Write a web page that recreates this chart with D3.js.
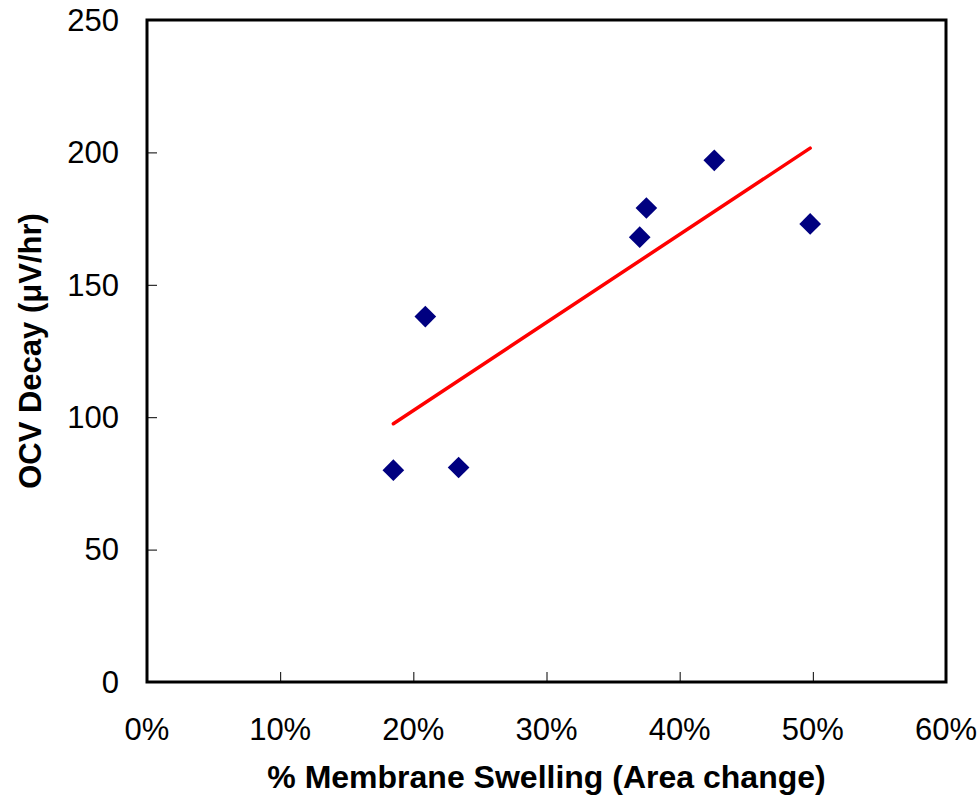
<!DOCTYPE html>
<html>
  <head>
    <meta charset="utf-8">
    <title>OCV Decay vs Membrane Swelling</title>
    <script src="https://cdn.jsdelivr.net/npm/d3@7"></script>
    <style>
      body { margin: 0; background: #fff; }
      svg { display: block; }
    </style>
  </head>
  <body>
    <svg></svg>
    <script>
      // swelling (%) and OCV decay (uV/hr)
      let swelling = [18.5, 20.9, 23.4, 37.0, 37.5, 42.6, 49.8];
      let decay = [80, 138, 81, 168, 179, 197, 173];
      let xTicks = [0, 10, 20, 30, 40, 50, 60];
      let yTicks = [0, 50, 100, 150, 200, 250];

      let dataset = swelling.map((s, i) => ({x: s, y: decay[i]}));
      let fontFamily = `"Liberation Sans", Arial, sans-serif`;

      let w = 979, h = 801;
      let margin = {top: 20, bottom: 119, left: 147, right: 33};

      let svg = d3.select("svg")
                  .attr("width", w)
                  .attr("height", h);

      let x = d3.scaleLinear()
                .domain([0, 60])
                .range([margin.left, w - margin.right]);

      let y = d3.scaleLinear()
                .domain([0, 250])
                .range([h - margin.bottom, margin.top]);

      //inner ticks
      svg.append("g")
         .attr("transform", "translate(0," + y(0) + ")")
         .call(d3.axisTop(x).tickValues(xTicks.slice(1, -1)).tickSize(10).tickFormat(""))
         .call(g => g.select(".domain").remove())
         .selectAll("line").attr("stroke", "#000").attr("stroke-width", 1);

      svg.append("g")
         .attr("transform", "translate(" + x(0) + ",0)")
         .call(d3.axisRight(y).tickValues(yTicks.slice(1, -1)).tickSize(10).tickFormat(""))
         .call(g => g.select(".domain").remove())
         .selectAll("line").attr("stroke", "#000").attr("stroke-width", 1);

      //frame
      svg.append("rect")
         .attr("x", x(0))
         .attr("y", y(250))
         .attr("width", x(60) - x(0))
         .attr("height", y(0) - y(250))
         .attr("fill", "none")
         .attr("stroke", "#000")
         .attr("stroke-width", 3);

      //tick labels
      svg.selectAll(".xLabel")
         .data(xTicks)
         .enter()
         .append("text")
         .attr("x", d => x(d))
         .attr("y", 740)
         .attr("text-anchor", "middle")
         .attr("font-family", fontFamily)
         .attr("font-size", 31)
         .text(d => d + "%");

      svg.selectAll(".yLabel")
         .data(yTicks)
         .enter()
         .append("text")
         .attr("x", 119)
         .attr("y", d => y(d))
         .attr("dy", "0.35em")
         .attr("text-anchor", "end")
         .attr("font-family", fontFamily)
         .attr("font-size", 31)
         .text(d => d);

      //axis titles
      svg.append("text")
         .attr("x", (x(0) + x(60)) / 2)
         .attr("y", 788)
         .attr("text-anchor", "middle")
         .attr("font-family", fontFamily)
         .attr("font-weight", "bold")
         .attr("font-size", 32)
         .text("% Membrane Swelling (Area change)");

      svg.append("text")
         .attr("transform", "translate(41," + (y(0) + y(250)) / 2 + ") rotate(-90)")
         .attr("text-anchor", "middle")
         .attr("font-family", fontFamily)
         .attr("font-weight", "bold")
         .attr("font-size", 31)
         .text("OCV Decay (μV/hr)");

      //linear trendline over the points
      let mx = d3.mean(dataset, d => d.x), my = d3.mean(dataset, d => d.y);
      let slope = d3.sum(dataset, d => (d.x - mx) * (d.y - my)) /
                  d3.sum(dataset, d => (d.x - mx) * (d.x - mx));
      let fit = v => my + slope * (v - mx);
      let ends = d3.extent(dataset, d => d.x);

      svg.append("line")
         .attr("x1", x(ends[0]))
         .attr("y1", y(fit(ends[0])))
         .attr("x2", x(ends[1]))
         .attr("y2", y(fit(ends[1])))
         .attr("stroke", "#ff0000")
         .attr("stroke-width", 3.5)
         .attr("stroke-linecap", "round");

      //diamond markers
      let diamond = d3.symbol().type(d3.symbolSquare).size(235);

      svg.selectAll(".point")
         .data(dataset)
         .enter()
         .append("path")
         .attr("class", "point")
         .attr("d", diamond)
         .attr("transform", d => "translate(" + x(d.x) + "," + y(d.y) + ") rotate(45)")
         .attr("fill", "#000080");
    </script>
  </body>
</html>
